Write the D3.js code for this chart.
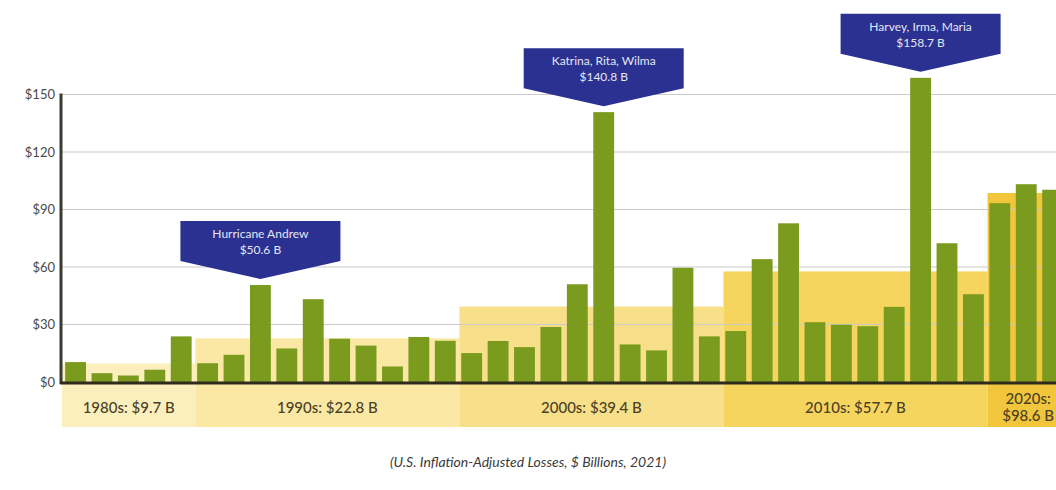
<!DOCTYPE html>
<html>
<head>
<meta charset="utf-8">
<script src="https://cdnjs.cloudflare.com/ajax/libs/d3/7.8.5/d3.min.js"></script>
<style>
  body { margin: 0; background: #fff; }
  svg { display: block; font-family: Lato, "Open Sans", sans-serif; }
</style>
</head>
<body>
<div id="chart"></div>
<script>
// hurricane losses by year, $ billions
var years = [1985, 1986, 1987, 1988, 1989,
	1990, 1991, 1992, 1993, 1994, 1995, 1996, 1997, 1998, 1999,
	2000, 2001, 2002, 2003, 2004, 2005, 2006, 2007, 2008, 2009,
	2010, 2011, 2012, 2013, 2014, 2015, 2016, 2017, 2018, 2019,
	2020, 2021, 2022];
var losses = [10.4, 4.6, 3.4, 6.4, 23.8,
	9.8, 14.2, 50.6, 17.5, 43.2, 22.6, 19.0, 8.1, 23.5, 21.5,
	15.1, 21.4, 18.2, 28.7, 51.0, 140.8, 19.6, 16.5, 59.6, 23.8,
	26.6, 64.1, 82.8, 31.2, 29.9, 29.1, 39.2, 158.7, 72.4, 45.8,
	93.3, 103.2, 100.3];

// decade averages
var decadeFirst = [1985, 1990, 2000, 2010, 2020];
var decadeAvg = [9.7, 22.8, 39.4, 57.7, 98.6];
var decadeLabels = [["1980s: $9.7 B"], ["1990s: $22.8 B"], ["2000s: $39.4 B"], ["2010s: $57.7 B"], ["2020s:", "$98.6 B"]];
var decadeColors = ["#fbefbd", "#fae8a4", "#f8df8a", "#f6d55f", "#f1c63c"];

// call-outs
var calloutYears = [1992, 2005, 2017];
var calloutNames = ["Hurricane Andrew", "Katrina, Rita, Wilma", "Harvey, Irma, Maria"];
var calloutValues = ["$50.6 B", "$140.8 B", "$158.7 B"];

var yTicks = [0, 30, 60, 90, 120, 150];

var W = 1056, H = 490;
var left = 61, baseY = 382, bandBottom = 427;

var svg = d3.select("#chart").append("svg")
	.attr("width", W)
	.attr("height", H);

var x = d3.scaleBand()
	.domain(years)
	.range([62.5, 62.5 + years.length * 26.4])
	.paddingInner(0.21)
	.paddingOuter(0.1);

var y = d3.scaleLinear().domain([0, 150]).range([baseY, 94.5]);

var step = x.step();
var gap = step - x.bandwidth();

// decade bands (above and below the baseline)
decadeFirst.forEach(function(yr, i) {
	var x0 = i == 0 ? left + 1 : x(yr) - gap / 3;
	var x1 = i < decadeFirst.length - 1 ? x(decadeFirst[i + 1]) - gap / 3 : W;
	svg.append("rect")
		.attr("x", x0)
		.attr("y", y(decadeAvg[i]))
		.attr("width", x1 - x0)
		.attr("height", bandBottom - y(decadeAvg[i]))
		.attr("fill", decadeColors[i]);

	var cx = i < decadeFirst.length - 1 ? (x0 + x1) / 2 : x0 + 1.5 * step + 1;
	var lines = decadeLabels[i];
	var t = svg.append("text")
		.attr("x", cx)
		.attr("y", lines.length > 1 ? 404 : 413)
		.attr("text-anchor", "middle")
		.attr("fill", "#4b4124")
		.style("font-size", "15px")
		.style("font-weight", 500);
	lines.forEach(function(l, j) {
		t.append("tspan").attr("x", cx).attr("dy", j == 0 ? 0 : 17).text(l);
	});
});

// gridlines
svg.append("g")
	.selectAll("line")
	.data(yTicks.slice(1))
	.enter().append("line")
	.attr("x1", left)
	.attr("x2", W)
	.attr("y1", function(d) { return y(d); })
	.attr("y2", function(d) { return y(d); })
	.attr("stroke", "#cacaca")
	.attr("stroke-width", 1.2);

// bars
svg.append("g")
	.selectAll("rect")
	.data(losses)
	.enter().append("rect")
	.attr("x", function(d, i) { return x(years[i]); })
	.attr("y", function(d) { return y(d); })
	.attr("width", x.bandwidth())
	.attr("height", function(d) { return baseY - y(d); })
	.attr("fill", "#7b9b1f");

// y axis
var yAxis = svg.append("g")
	.attr("transform", "translate(" + left + ",0)")
	.call(d3.axisLeft(y).tickValues(yTicks).tickSize(0).tickPadding(6)
		.tickFormat(function(d) { return "$" + d; }));
yAxis.select(".domain").remove();
yAxis.selectAll("text")
	.attr("fill", "#4a4a4a")
	.style("font-size", "13px")
	.style("font-family", "Lato, sans-serif");

svg.append("line")
	.attr("x1", left).attr("x2", left)
	.attr("y1", y(150) - 1).attr("y2", baseY + 2)
	.attr("stroke", "#3a3a34")
	.attr("stroke-width", 3);

svg.append("line")
	.attr("x1", left - 1).attr("x2", W)
	.attr("y1", baseY + 1).attr("y2", baseY + 1)
	.attr("stroke", "#2f2b1c")
	.attr("stroke-width", 3);

// call-out boxes
var boxW = 160, boxH = 40, tipH = 18, tipGap = 6;
calloutYears.forEach(function(yr, i) {
	var v = losses[years.indexOf(yr)];
	var cx = x(yr) + x.bandwidth() / 2;
	var tipY = y(v) - tipGap;
	var top = tipY - tipH - boxH;
	var path = d3.path();
	path.moveTo(cx - boxW / 2, top);
	path.lineTo(cx + boxW / 2, top);
	path.lineTo(cx + boxW / 2, top + boxH);
	path.lineTo(cx, tipY);
	path.lineTo(cx - boxW / 2, top + boxH);
	path.closePath();
	svg.append("path")
		.attr("d", path.toString())
		.attr("fill", "#2b3190");

	svg.append("text")
		.attr("x", cx)
		.attr("y", top + 17)
		.attr("text-anchor", "middle")
		.attr("fill", "#e4e6f4")
		.style("font-size", "12px")
		.text(calloutNames[i]);
	svg.append("text")
		.attr("x", cx)
		.attr("y", top + 33)
		.attr("text-anchor", "middle")
		.attr("fill", "#e4e6f4")
		.style("font-size", "12px")
		.text(calloutValues[i]);
});

// caption
svg.append("text")
	.attr("x", 528)
	.attr("y", 467)
	.attr("text-anchor", "middle")
	.attr("fill", "#3a3a3a")
	.style("font-size", "14px")
	.style("font-style", "italic")
	.text("(U.S. Inflation-Adjusted Losses, $ Billions, 2021)");
</script>
</body>
</html>
